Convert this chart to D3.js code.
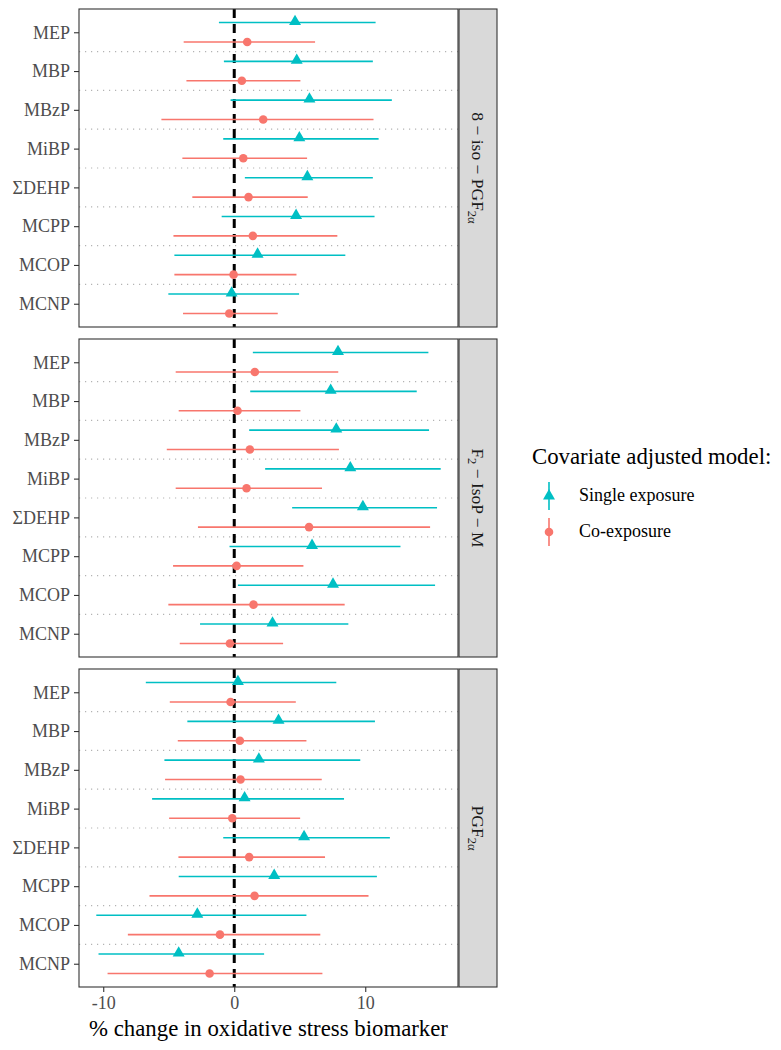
<!DOCTYPE html>
<html><head><meta charset="utf-8">
<script src="https://cdn.jsdelivr.net/npm/d3@7"></script>
<style>body{margin:0;background:#fff}svg{display:block}</style>
</head><body>
<svg id="chart" width="781" height="1050"></svg>
<script>
// ---------- data ----------
const categories = ["MEP","MBP","MBzP","MiBP","ΣDEHP","MCPP","MCOP","MCNP"];
const panels = ["iso8","f2isop","pgf2a"];
const xTicks = [-10, 0, 10];
const seriesNames = ["Single exposure","Co-exposure"];
// [lower, estimate, upper] per category (same order as categories)
const iso8_single = [[-1.17,4.64,10.79],[-0.79,4.77,10.58],[-0.28,5.74,12.03],[-0.84,4.97,11.02],[0.81,5.58,10.58],[-0.96,4.72,10.71],[-4.57,1.78,8.48],[-5.03,-0.20,4.95]];
const iso8_co     = [[-3.86,0.99,6.17],[-3.65,0.58,5.05],[-5.56,2.21,10.63],[-3.96,0.69,5.56],[-3.20,1.09,5.61],[-4.64,1.42,7.87],[-4.57,-0.05,4.75],[-3.91,-0.38,3.32]];
const f2_single   = [[1.42,7.92,14.82],[1.22,7.36,13.93],[1.14,7.79,14.87],[2.36,8.86,15.76],[4.42,9.82,15.48],[-0.36,5.94,12.69],[0.28,7.54,15.33],[-2.61,2.92,8.71]];
const f2_co       = [[-4.47,1.57,7.94],[-4.24,0.25,5.05],[-5.15,1.19,7.99],[-4.47,0.94,6.70],[-2.77,5.71,14.95],[-4.67,0.18,5.28],[-5.03,1.47,8.43],[-4.16,-0.33,3.73]];
const pgf_single  = [[-6.75,0.28,7.79],[-3.58,3.38,10.74],[-5.33,1.88,9.62],[-6.27,0.79,8.38],[-0.84,5.33,11.88],[-4.24,3.05,10.89],[-10.53,-2.82,5.51],[-10.36,-4.24,2.28]];
const pgf_co      = [[-4.92,-0.28,4.70],[-4.31,0.43,5.51],[-5.28,0.48,6.68],[-4.97,-0.15,5.03],[-4.26,1.14,6.93],[-6.47,1.55,10.25],[-8.12,-1.09,6.57],[-9.67,-1.88,6.73]];

const panelData = {
  iso8:   {single: iso8_single, co: iso8_co},
  f2isop: {single: f2_single,   co: f2_co},
  pgf2a:  {single: pgf_single,  co: pgf_co}
};

// ---------- layout ----------
const svg = d3.select("#chart");
const colSingle = "#00BFC4", colCo = "#F8766D";
const serif = "'Liberation Serif','Times New Roman',serif";
const L = 79, R = 458;
const panelTops = [9, 339, 669], panelH = 318;
const stripW = 39;

const x = d3.scaleLinear().domain([-11.85, 17.08]).range([L, R]);

function stripLabel(g, key) {
  const t = g.append("text").attr("font-family", serif).attr("font-size", 17.5).attr("fill", "#1a1a1a")
    .attr("text-anchor", "middle");
  if (key === "iso8") {
    t.append("tspan").text("8 − iso − PGF");
    t.append("tspan").attr("font-size", 12.5).attr("dy", 4).text("2α");
  } else if (key === "f2isop") {
    t.append("tspan").text("F");
    t.append("tspan").attr("font-size", 12.5).attr("dy", 4).text("2");
    t.append("tspan").attr("dy", -4).text(" − IsoP − M");
  } else {
    t.append("tspan").text("PGF");
    t.append("tspan").attr("font-size", 12.5).attr("dy", 4).text("2α");
  }
  return t;
}

panels.forEach((key, pi) => {
  const top = panelTops[pi], bottom = top + panelH;
  const y = d3.scaleLinear().domain([0.4, 8.6]).range([bottom, top]);
  const pos = i => categories.length - i; // MEP at top
  const g = svg.append("g");

  g.append("rect").attr("x", L).attr("y", top).attr("width", R - L).attr("height", panelH).attr("fill", "#fff");

  // dotted separators
  for (let k = 1; k < categories.length; k++) {
    g.append("line").attr("x1", L).attr("x2", R).attr("y1", y(k + 0.5)).attr("y2", y(k + 0.5))
      .attr("stroke", "#b3b3b3").attr("stroke-width", 1.2).attr("stroke-dasharray", "1.2,4.8");
  }

  // zero line
  g.append("line").attr("x1", x(0)).attr("x2", x(0)).attr("y1", top).attr("y2", bottom)
    .attr("stroke", "#000").attr("stroke-width", 3).attr("stroke-dasharray", "9,6");

  const series = [
    {data: panelData[key].single, off: 0.25, col: colSingle, shape: "tri"},
    {data: panelData[key].co, off: -0.25, col: colCo, shape: "circ"}
  ];
  series.forEach(s => {
    const gs = g.append("g");
    gs.selectAll("line").data(s.data).join("line")
      .attr("x1", d => x(d[0])).attr("x2", d => x(d[2]))
      .attr("y1", (d, i) => y(pos(i) + s.off)).attr("y2", (d, i) => y(pos(i) + s.off))
      .attr("stroke", s.col).attr("stroke-width", 1.6);
    if (s.shape === "tri") {
      gs.selectAll("path").data(s.data).join("path")
        .attr("d", d3.symbol(d3.symbolTriangle, 62))
        .attr("transform", (d, i) => `translate(${x(d[1])},${y(pos(i) + s.off) - 1})`)
        .attr("fill", s.col);
    } else {
      gs.selectAll("circle").data(s.data).join("circle")
        .attr("cx", d => x(d[1])).attr("cy", (d, i) => y(pos(i) + s.off)).attr("r", 4.3)
        .attr("fill", s.col);
    }
  });

  g.append("rect").attr("x", L).attr("y", top).attr("width", R - L).attr("height", panelH)
    .attr("fill", "none").attr("stroke", "#333").attr("stroke-width", 1.1);

  // y axis
  const yAxis = d3.axisLeft(y).tickValues(d3.range(1, categories.length + 1))
    .tickFormat(v => categories[categories.length - v]).tickSize(5).tickPadding(4);
  const ga = svg.append("g").attr("transform", `translate(${L},0)`).call(yAxis);
  ga.select(".domain").remove();
  ga.selectAll(".tick line").attr("stroke", "#333").attr("stroke-width", 1.1);
  ga.selectAll(".tick text").attr("font-family", serif).attr("font-size", 18).attr("fill", "#4d4d4d");

  // strip
  const sx = R + 1;
  svg.append("rect").attr("x", sx).attr("y", top).attr("width", stripW - 1).attr("height", panelH)
    .attr("fill", "#d9d9d9").attr("stroke", "#333").attr("stroke-width", 1.1);
  const sg = svg.append("g").attr("transform", `translate(${sx + (stripW - 1) / 2 - 6},${top + panelH / 2}) rotate(90)`);
  stripLabel(sg, key);

  if (pi === panels.length - 1) {
    const xAxis = d3.axisBottom(x).tickValues(xTicks).tickSize(5).tickPadding(4).tickFormat(d => String(d));
    const gx = svg.append("g").attr("transform", `translate(0,${bottom})`).call(xAxis);
    gx.select(".domain").remove();
    gx.selectAll(".tick line").attr("stroke", "#333").attr("stroke-width", 1.1);
    gx.selectAll(".tick text").attr("font-family", serif).attr("font-size", 18).attr("fill", "#4d4d4d");
    svg.append("text").attr("x", (L + R) / 2).attr("y", 1036).attr("text-anchor", "middle")
      .attr("font-family", serif).attr("font-size", 22.8).attr("fill", "#000")
      .text("% change in oxidative stress biomarker");
  }
});

// ---------- legend ----------
const lg = svg.append("g");
lg.append("text").attr("x", 532).attr("y", 464).attr("font-family", serif).attr("font-size", 22.8)
  .attr("fill", "#000").text("Covariate adjusted model:");
const legY = [496, 532];
const legCols = [colSingle, colCo];
seriesNames.forEach((name, i) => {
  const cy = legY[i];
  lg.append("line").attr("x1", 549).attr("x2", 549).attr("y1", cy - 14).attr("y2", cy + 14)
    .attr("stroke", legCols[i]).attr("stroke-width", 1.6);
  if (i === 0) {
    lg.append("path").attr("d", d3.symbol(d3.symbolTriangle, 62)).attr("transform", `translate(549,${cy})`).attr("fill", legCols[i]);
  } else {
    lg.append("circle").attr("cx", 549).attr("cy", cy).attr("r", 4.3).attr("fill", legCols[i]);
  }
  lg.append("text").attr("x", 579).attr("y", cy + 5).attr("font-family", serif).attr("font-size", 18)
    .attr("fill", "#000").text(name);
});
</script>
</body></html>
